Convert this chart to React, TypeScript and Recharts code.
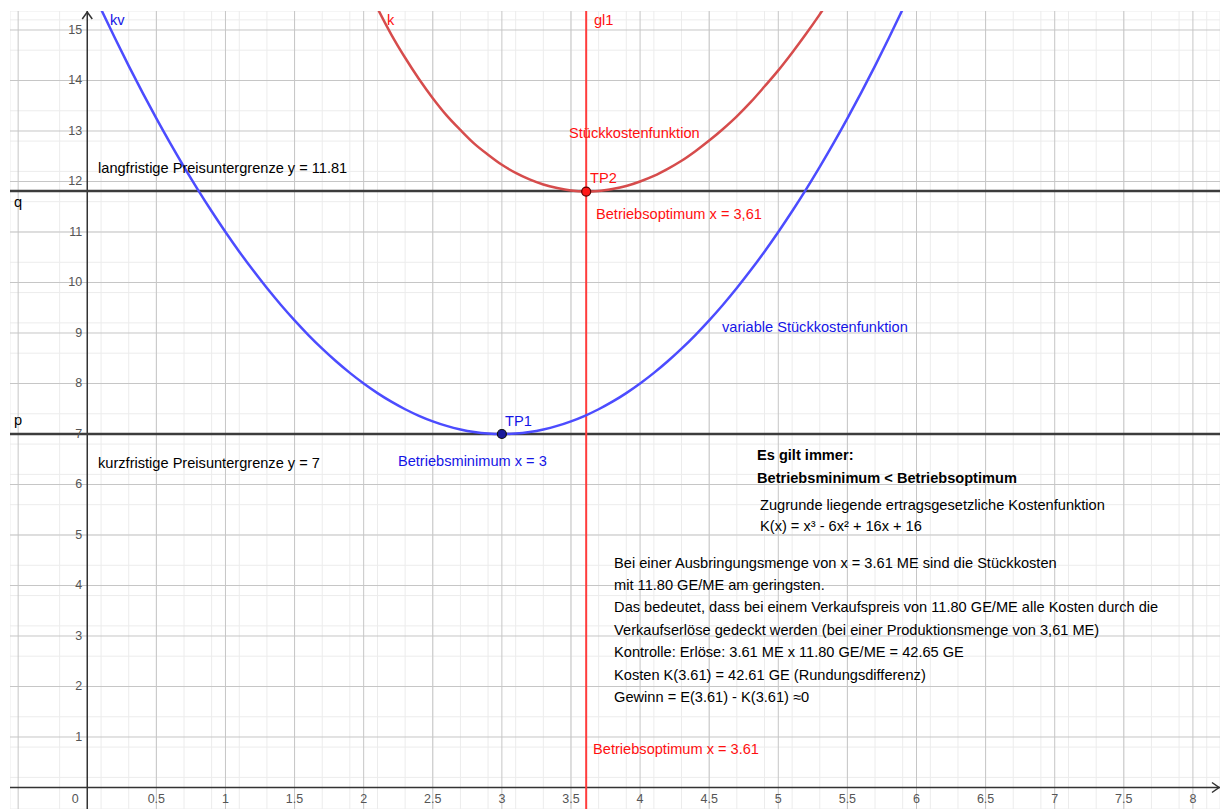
import React from 'react';
import { ComposedChart, Line, Scatter, XAxis, YAxis, CartesianGrid, ReferenceLine } from 'recharts';

// visible window of the GeoGebra view
const X_MIN = -0.559;
const X_MAX = 8.196;
const Y_MIN = -0.426;
const Y_MAX = 15.376;

// kv – variable Stückkosten
const kvPoints = [
  { x: 0.0, y: 16 }, { x: 0.1, y: 15.41 }, { x: 0.2, y: 14.84 }, { x: 0.3, y: 14.29 },
  { x: 0.4, y: 13.76 }, { x: 0.5, y: 13.25 }, { x: 0.6, y: 12.76 }, { x: 0.7, y: 12.29 },
  { x: 0.8, y: 11.84 }, { x: 0.9, y: 11.41 }, { x: 1.0, y: 11 }, { x: 1.1, y: 10.61 },
  { x: 1.2, y: 10.24 }, { x: 1.3, y: 9.89 }, { x: 1.4, y: 9.56 }, { x: 1.5, y: 9.25 },
  { x: 1.6, y: 8.96 }, { x: 1.7, y: 8.69 }, { x: 1.8, y: 8.44 }, { x: 1.9, y: 8.21 },
  { x: 2.0, y: 8 }, { x: 2.1, y: 7.81 }, { x: 2.2, y: 7.64 }, { x: 2.3, y: 7.49 },
  { x: 2.4, y: 7.36 }, { x: 2.5, y: 7.25 }, { x: 2.6, y: 7.16 }, { x: 2.7, y: 7.09 },
  { x: 2.8, y: 7.04 }, { x: 2.9, y: 7.01 }, { x: 3.0, y: 7 }, { x: 3.1, y: 7.01 },
  { x: 3.2, y: 7.04 }, { x: 3.3, y: 7.09 }, { x: 3.4, y: 7.16 }, { x: 3.5, y: 7.25 },
  { x: 3.6, y: 7.36 }, { x: 3.7, y: 7.49 }, { x: 3.8, y: 7.64 }, { x: 3.9, y: 7.81 },
  { x: 4.0, y: 8 }, { x: 4.1, y: 8.21 }, { x: 4.2, y: 8.44 }, { x: 4.3, y: 8.69 },
  { x: 4.4, y: 8.96 }, { x: 4.5, y: 9.25 }, { x: 4.6, y: 9.56 }, { x: 4.7, y: 9.89 },
  { x: 4.8, y: 10.24 }, { x: 4.9, y: 10.61 }, { x: 5.0, y: 11 }, { x: 5.1, y: 11.41 },
  { x: 5.2, y: 11.84 }, { x: 5.3, y: 12.29 }, { x: 5.4, y: 12.76 }, { x: 5.5, y: 13.25 },
  { x: 5.6, y: 13.76 }, { x: 5.7, y: 14.29 }, { x: 5.8, y: 14.84 }, { x: 5.9, y: 15.41 },
  { x: 6.0, y: 16 },
];

// k – Stückkosten
const kPoints = [
  { x: 2.0, y: 16 }, { x: 2.1, y: 15.43 }, { x: 2.2, y: 14.91 }, { x: 2.3, y: 14.45 },
  { x: 2.4, y: 14.03 }, { x: 2.5, y: 13.65 }, { x: 2.6, y: 13.31 }, { x: 2.7, y: 13.02 },
  { x: 2.8, y: 12.75 }, { x: 2.9, y: 12.53 }, { x: 3.0, y: 12.33 }, { x: 3.1, y: 12.17 },
  { x: 3.2, y: 12.04 }, { x: 3.3, y: 11.94 }, { x: 3.4, y: 11.87 }, { x: 3.5, y: 11.82 },
  { x: 3.6, y: 11.8 }, { x: 3.7, y: 11.81 }, { x: 3.8, y: 11.85 }, { x: 3.9, y: 11.91 },
  { x: 4.0, y: 12 }, { x: 4.1, y: 12.11 }, { x: 4.2, y: 12.25 }, { x: 4.3, y: 12.41 },
  { x: 4.4, y: 12.6 }, { x: 4.5, y: 12.81 }, { x: 4.6, y: 13.04 }, { x: 4.7, y: 13.29 },
  { x: 4.8, y: 13.57 }, { x: 4.9, y: 13.88 }, { x: 5.0, y: 14.2 }, { x: 5.1, y: 14.55 },
  { x: 5.2, y: 14.92 }, { x: 5.3, y: 15.31 }, { x: 5.4, y: 15.72 },
];

const tp1 = [{ x: 3, y: 7 }];
const tp2 = [{ x: 3.61, y: 11.8 }];
const priceLongRun = 11.81;
const priceShortRun = 7;
const optimumX = 3.61;

const xTickLabels = [0.5, 1, 1.5, 2, 2.5, 3, 3.5, 4, 4.5, 5, 5.5, 6, 6.5, 7, 7.5, 8];
const yTickLabels = [1, 2, 3, 4, 5, 6, 7, 8, 9, 10, 11, 12, 13, 14, 15];
const xMajor = [-0.5, 0.5, 1, 1.5, 2, 2.5, 3, 3.5, 4, 4.5, 5, 5.5, 6, 6.5, 7, 7.5, 8];
const yMajor = [1, 2, 3, 4, 5, 6, 7, 8, 9, 10, 11, 12, 13, 14, 15];

// minor grid: 0.1 in x, 0.2 in y
const xMinor = Array.from({ length: 87 }, (_, i) => Math.round((-0.5 + i * 0.1) * 10) / 10);
const yMinor = Array.from({ length: 79 }, (_, i) => Math.round((-0.4 + i * 0.2) * 10) / 10);

// text annotations, anchored at their left edge / vertical centre
const redNotes = [
  { x: 2.168, y: 15.2, text: 'k' },
  { x: 3.666, y: 15.2, text: 'gl1' },
  { x: 3.486, y: 12.96, text: 'Stückkostenfunktion' },
  { x: 3.638, y: 12.07, text: 'TP2' },
  { x: 3.681, y: 11.36, text: 'Betriebsoptimum x = 3,61' },
  { x: 3.66, y: 0.76, text: 'Betriebsoptimum x = 3.61' },
];
const blueNotes = [
  { x: 0.165, y: 15.2, text: 'kv' },
  { x: 4.593, y: 9.12, text: 'variable Stückkostenfunktion' },
  { x: 3.023, y: 7.26, text: 'TP1' },
  { x: 2.248, y: 6.47, text: 'Betriebsminimum x = 3' },
];
const blackNotes = [
  { x: 0.078, y: 12.27, text: 'langfristige Preisuntergrenze y = 11.81' },
  { x: -0.53, y: 11.59, text: 'q' },
  { x: -0.53, y: 7.28, text: 'p' },
  { x: 0.078, y: 6.43, text: 'kurzfristige Preisuntergrenze y = 7' },
  { x: 4.868, y: 5.59, text: 'Zugrunde liegende ertragsgesetzliche Kostenfunktion' },
  { x: 4.868, y: 5.18, text: 'K(x) = x³ - 6x² + 16x + 16' },
  { x: 3.812, y: 4.45, text: 'Bei einer Ausbringungsmenge von x = 3.61 ME sind die Stückkosten' },
  { x: 3.812, y: 4.01, text: 'mit 11.80 GE/ME am geringsten.' },
  { x: 3.812, y: 3.57, text: 'Das bedeutet, dass bei einem Verkaufspreis von 11.80 GE/ME alle Kosten durch die' },
  { x: 3.812, y: 3.12, text: 'Verkaufserlöse gedeckt werden (bei einer Produktionsmenge von 3,61 ME)' },
  { x: 3.812, y: 2.68, text: 'Kontrolle: Erlöse: 3.61 ME x 11.80 GE/ME = 42.65 GE' },
  { x: 3.812, y: 2.23, text: 'Kosten K(3.61) = 42.61 GE (Rundungsdifferenz)' },
  { x: 3.812, y: 1.79, text: 'Gewinn = E(3.61) - K(3.61) ≈0' },
];
const boldNotes = [
  { x: 4.846, y: 6.58, text: 'Es gilt immer:' },
  { x: 4.846, y: 6.13, text: 'Betriebsminimum < Betriebsoptimum' },
];

const FONT = '"Liberation Sans", Arial, sans-serif';
const NOTE_SIZE = 14.6;

const noteShape = (color: string, weight = 400) => (props: any) => (
  <text
    x={props.cx}
    y={props.cy}
    dominantBaseline="central"
    fill={color}
    fontSize={NOTE_SIZE}
    fontWeight={weight}
    fontFamily={FONT}
  >
    {props.payload.text}
  </text>
);

const xTickShape = (props: any) => (
  <text x={props.cx} y={props.cy + 12} textAnchor="middle" dominantBaseline="central"
    fill="#555" fontSize={12.5} fontFamily={FONT}>
    {props.payload.x}
  </text>
);

const yTickShape = (props: any) => (
  <text x={props.cx - 5} y={props.cy} textAnchor="end" dominantBaseline="central"
    fill="#555" fontSize={12.5} fontFamily={FONT}>
    {props.payload.y}
  </text>
);

const dotShape = (fill: string, stroke: string) => (props: any) => (
  <circle cx={props.cx} cy={props.cy} r={4.5} fill={fill} stroke={stroke} strokeWidth={1.2} />
);

export default function App() {
  const xTickData = xTickLabels.map(v => ({ x: v, y: 0 }));
  const yTickData = yTickLabels.map(v => ({ x: 0, y: v }));

  return (
    <div style={{ position: 'absolute', left: 10, top: 11, background: '#fff' }}>
      <ComposedChart width={1210} height={798} margin={{ top: 0, right: 0, bottom: 0, left: 0 }}>
        <XAxis type="number" dataKey="x" domain={[X_MIN, X_MAX]} ticks={xMinor}
          allowDataOverflow hide />
        <YAxis type="number" dataKey="y" domain={[Y_MIN, Y_MAX]} ticks={yMinor}
          allowDataOverflow hide />
        <CartesianGrid stroke="#ececec" strokeWidth={1} />

        {xMajor.map(v => (
          <ReferenceLine key={'vx' + v} x={v} stroke="#c6c6c6" strokeWidth={1} ifOverflow="hidden" />
        ))}
        {yMajor.map(v => (
          <ReferenceLine key={'hy' + v} y={v} stroke="#c6c6c6" strokeWidth={1} ifOverflow="hidden" />
        ))}

        {/* axes */}
        <ReferenceLine x={0} stroke="#333" strokeWidth={1.5} />
        <ReferenceLine y={0} stroke="#333" strokeWidth={1.5} />

        {/* price lines p, q and gl1 */}
        <ReferenceLine y={priceLongRun} stroke="#3c3c3c" strokeWidth={2.5} />
        <ReferenceLine y={priceShortRun} stroke="#3c3c3c" strokeWidth={2.5} />
        <ReferenceLine x={optimumX} stroke="#ff3c3c" strokeWidth={2} />

        <Line data={kvPoints} dataKey="y" type="monotone" stroke="#4c4cff" strokeWidth={2.5}
          dot={false} isAnimationActive={false} />
        <Line data={kPoints} dataKey="y" type="monotone" stroke="#d64c4c" strokeWidth={2.5}
          dot={false} isAnimationActive={false} />

        <Scatter data={[{ x: 0, y: Y_MAX }]} dataKey="y" isAnimationActive={false}
          shape={(p: any) => (
            <path d={`M${p.cx - 5},${p.cy + 8} L${p.cx},${p.cy + 1} L${p.cx + 5},${p.cy + 8}`}
              fill="none" stroke="#333" strokeWidth={1.5} />
          )} />
        <Scatter data={[{ x: X_MAX, y: 0 }]} dataKey="y" isAnimationActive={false}
          shape={(p: any) => (
            <path d={`M${p.cx - 8},${p.cy - 5} L${p.cx - 1},${p.cy} L${p.cx - 8},${p.cy + 5}`}
              fill="none" stroke="#333" strokeWidth={1.5} />
          )} />

        <Scatter data={xTickData} dataKey="y" shape={xTickShape} isAnimationActive={false} />
        <Scatter data={yTickData} dataKey="y" shape={yTickShape} isAnimationActive={false} />
        <Scatter data={[{ x: 0, y: 0 }]} dataKey="y" isAnimationActive={false}
          shape={(p: any) => (
            <text x={p.cx - 12} y={p.cy + 12} textAnchor="middle" dominantBaseline="central"
              fill="#555" fontSize={12.5} fontFamily={FONT}>0</text>
          )} />

        <Scatter data={tp1} dataKey="y" shape={dotShape('#1a1a9c', '#111')} isAnimationActive={false} />
        <Scatter data={tp2} dataKey="y" shape={dotShape('#ff1a1a', '#5a0000')} isAnimationActive={false} />

        <Scatter data={redNotes} dataKey="y" shape={noteShape('#ff1010')} isAnimationActive={false} />
        <Scatter data={blueNotes} dataKey="y" shape={noteShape('#1515e6')} isAnimationActive={false} />
        <Scatter data={blackNotes} dataKey="y" shape={noteShape('#000')} isAnimationActive={false} />
        <Scatter data={boldNotes} dataKey="y" shape={noteShape('#000', 700)} isAnimationActive={false} />
      </ComposedChart>
    </div>
  );
}
